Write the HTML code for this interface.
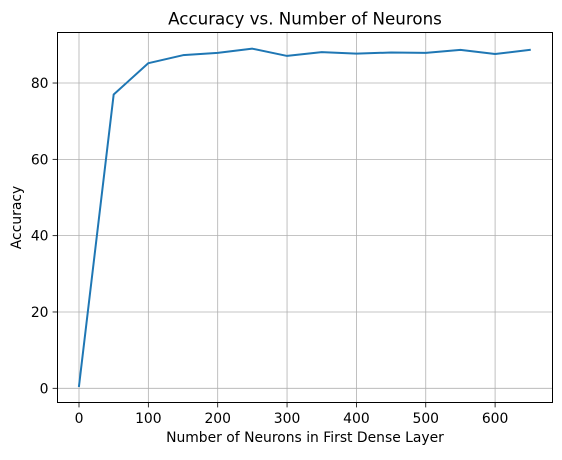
<!DOCTYPE html>
<html><head><meta charset="utf-8"><style>
body{margin:0;background:#fff;}
text{font-family:"DejaVu Sans","Liberation Sans",sans-serif;}
</style></head><body>
<svg id="chart" width="562" height="455" xmlns="http://www.w3.org/2000/svg"></svg>
<script>
const neurons=[0,50,100,150,200,250,300,350,400,450,500,550,600,650];
const accuracy=[0.6,77.0,85.2,87.3,87.9,89.0,87.1,88.1,87.7,88.0,87.9,88.7,87.6,88.7];
const xTicks=[0,100,200,300,400,500,600];
const yTicks=[0,20,40,60,80];
const L=57.5,R=552.5,T=32.5,B=402.5;
const xs=v=>79+v*0.6935;
const ys=v=>388.3-v*3.816;
const svg=document.getElementById('chart');
const NS='http://www.w3.org/2000/svg';
function mk(tag,attrs,parent){const e=document.createElementNS(NS,tag);for(const k in attrs)e.setAttribute(k,attrs[k]);(parent||svg).appendChild(e);return e;}
xTicks.forEach(v=>{
 const x=xs(v);
 const g=mk('line',{x1:x,x2:x,y1:T,y2:B,stroke:'#b0b0b0','stroke-width':0.8});
 
 
 mk('line',{x1:x,x2:x,y1:B,y2:B+4.9,stroke:'#000','stroke-width':0.8});
 const t=mk('text',{x:x,y:B+20.5,'font-size':13.9,'text-anchor':'middle'});
 t.textContent=v;
 
 
});
yTicks.forEach(v=>{
 const y=ys(v);
 const g=mk('line',{x1:L,x2:R,y1:y,y2:y,stroke:'#b0b0b0','stroke-width':0.8});
 
 
 mk('line',{x1:L-4.9,x2:L,y1:y,y2:y,stroke:'#000','stroke-width':0.8});
 const t=mk('text',{x:L-9,y:y+5,'font-size':13.9,'text-anchor':'end'});
 t.textContent=v;
 
 
});
const pl=mk('polyline',{points:neurons.map((n,i)=>xs(n)+','+ys(accuracy[i])).join(' '),fill:'none',stroke:'#1f77b4','stroke-width':2,'stroke-linejoin':'round','stroke-linecap':'square'});


const fr=mk('rect',{x:L,y:T,width:R-L,height:B-T,fill:'none',stroke:'#000','stroke-width':1});


const tt=mk('text',{x:(L+R)/2,y:T-8,'font-size':16.7,'text-anchor':'middle'});
tt.textContent='Accuracy vs. Number of Neurons';


const xl=mk('text',{x:(L+R)/2,y:442,'font-size':13.9,'text-anchor':'middle'});
xl.textContent='Number of Neurons in First Dense Layer';


const yl=mk('text',{x:0,y:0,'font-size':13.9,'text-anchor':'middle',transform:'translate(21,'+((T+B)/2)+') rotate(-90)'});
yl.textContent='Accuracy';


</script>
</body></html>
